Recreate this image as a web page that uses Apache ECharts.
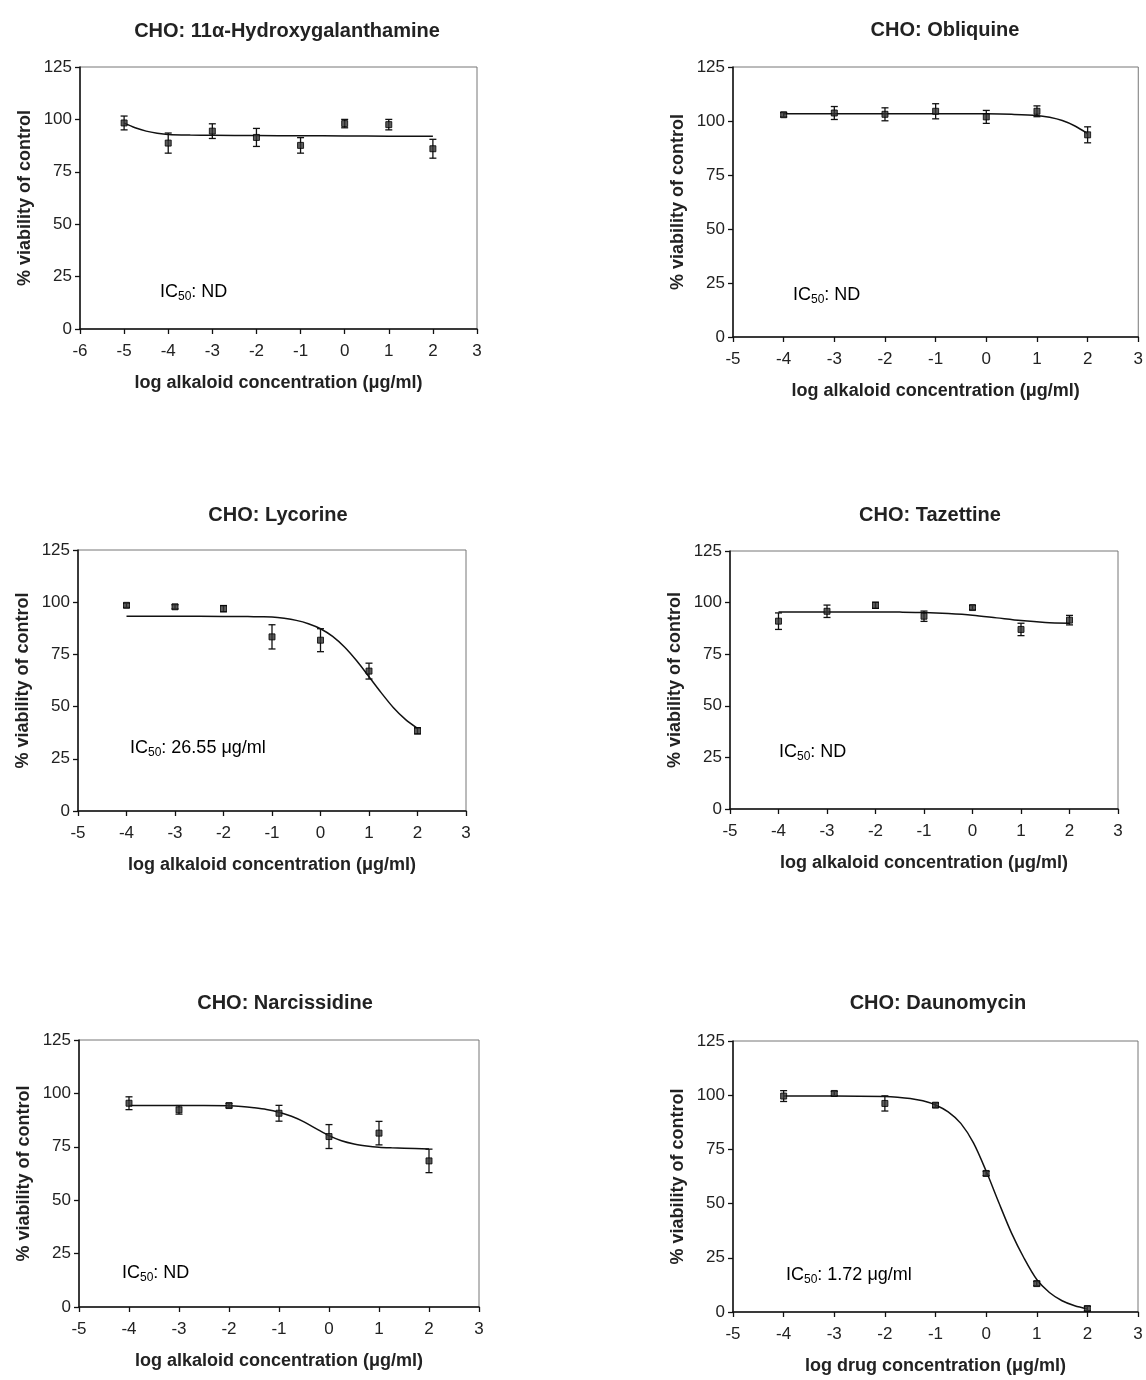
<!DOCTYPE html>
<html>
<head>
<meta charset="utf-8">
<script src="https://cdn.jsdelivr.net/npm/echarts@6/dist/echarts.min.js"></script>
<style>
html,body{margin:0;padding:0;background:#fff;}
#chart{width:1146px;height:1380px;}
</style>
</head>
<body>
<div id="chart"></div>
<script>
// ---------- DATA ----------
const dosesHydroxy = [-5, -4, -3, -2, -1, 0, 1, 2];
const doses = [-4, -3, -2, -1, 0, 1, 2];
const yTicks = [0, 25, 50, 75, 100, 125];

// CHO: 11α-Hydroxygalanthamine
const hydroxyMean = [98.3, 88.7, 94.4, 91.4, 87.6, 98.0, 97.5, 86.0];
const hydroxySem  = [3.3, 4.8, 3.5, 4.3, 3.7, 2.0, 2.5, 4.5];
const hydroxyFitX = [-5, -4.75, -4.5, -4.25, -4, -3.5, -3, -2, -1, 0, 1, 2];
const hydroxyFitY = [98.2, 96.0, 94.4, 93.4, 92.8, 92.5, 92.4, 92.3, 92.2, 92.1, 92.0, 92.0];

// CHO: Obliquine
const obliqMean = [102.9, 103.7, 103.1, 104.5, 101.9, 104.5, 93.6];
const obliqSem  = [1.0, 3.0, 3.0, 3.5, 3.0, 2.5, 3.7];
const obliqFitX = [-4, -3, -2, -1, 0, 0.5, 1, 1.25, 1.5, 1.75, 2];
const obliqFitY = [103.4, 103.4, 103.4, 103.4, 103.3, 103.1, 102.6, 101.7, 100.2, 97.7, 94.2];

// CHO: Lycorine
const lycoMean = [98.5, 97.8, 96.9, 83.4, 81.8, 67.0, 38.4];
const lycoSem  = [1.0, 1.0, 1.5, 5.8, 5.5, 3.8, 1.5];
const lycoFitX = [-4, -3, -2, -1.5, -1.25, -1, -0.75, -0.5, -0.25, 0, 0.25, 0.5, 0.75, 1, 1.25, 1.5, 1.75, 2];
const lycoFitY = [93.3, 93.3, 93.2, 93.1, 93.0, 92.9, 92.3, 91.3, 89.7, 87.3, 83.6, 78.4, 71.8, 64.3, 56.7, 49.6, 43.9, 39.6];

// CHO: Tazettine
const tazMean = [91.0, 95.8, 98.7, 93.4, 97.6, 87.0, 91.5];
const tazSem  = [4.0, 3.0, 1.5, 2.5, 1.0, 3.0, 2.3];
const tazFitX = [-4, -3, -2, -1.5, -1, -0.5, 0, 0.5, 1, 1.5, 2];
const tazFitY = [95.5, 95.5, 95.5, 95.4, 95.2, 94.7, 93.9, 92.6, 91.3, 90.4, 90.0];

// CHO: Narcissidine
const narcMean = [95.4, 92.3, 94.3, 90.7, 79.8, 81.4, 68.4];
const narcSem  = [3.0, 2.0, 1.0, 3.7, 5.6, 5.5, 5.5];
const narcFitX = [-4, -3, -2, -1.75, -1.5, -1.25, -1, -0.75, -0.5, -0.25, 0, 0.25, 0.5, 0.75, 1, 1.25, 1.5, 2];
const narcFitY = [94.3, 94.3, 94.2, 93.9, 93.3, 92.5, 91.2, 89.3, 86.7, 83.4, 80.2, 77.8, 76.3, 75.4, 74.8, 74.5, 74.3, 74.0];

// CHO: Daunomycin
const daunoMean = [99.6, 100.8, 96.2, 95.4, 63.9, 13.1, 1.6];
const daunoSem  = [2.5, 1.0, 3.5, 1.0, 1.0, 1.0, 1.0];
const daunoFitX = [-4, -3, -2, -1.75, -1.5, -1.25, -1, -0.75, -0.5, -0.25, 0, 0.25, 0.5, 0.75, 1, 1.25, 1.5, 1.75, 2];
const daunoFitY = [99.6, 99.6, 99.4, 99.1, 98.5, 97.4, 95.5, 92.3, 87.0, 78.0, 65.0, 50.5, 36.5, 24.8, 15.0, 9.0, 5.2, 2.9, 1.5];

const titles = [
  'CHO: 11\u03b1-Hydroxygalanthamine', 'CHO: Obliquine',
  'CHO: Lycorine', 'CHO: Tazettine',
  'CHO: Narcissidine', 'CHO: Daunomycin'
];
const xNames = [
  'log alkaloid concentration (\u03bcg/ml)', 'log alkaloid concentration (\u03bcg/ml)',
  'log alkaloid concentration (\u03bcg/ml)', 'log alkaloid concentration (\u03bcg/ml)',
  'log alkaloid concentration (\u03bcg/ml)', 'log drug concentration (\u03bcg/ml)'
];
const yName = '% viability of control';
const ic50Labels = ['ND', 'ND', '26.55 \u03bcg/ml', 'ND', 'ND', '1.72 \u03bcg/ml'];
const xMins = [-6, -5, -5, -5, -5, -5];
const xMax = 3;

// ---------- LAYOUT ----------
const layout = [
  {left: 80, top: 67, width: 397, height: 262, tx: 282, ty: 16, icx: 160, icy: 292},
  {left: 733, top: 67, width: 407, height: 270, tx: 940, ty: 15, icx: 793, icy: 295},
  {left: 78, top: 550, width: 388, height: 261, tx: 273, ty: 500, icx: 130, icy: 748},
  {left: 730, top: 551, width: 388, height: 258, tx: 925, ty: 500, icx: 779, icy: 752},
  {left: 79, top: 1040, width: 400, height: 267, tx: 280, ty: 988, icx: 122, icy: 1273},
  {left: 733, top: 1041, width: 405, height: 271, tx: 933, ty: 988, icx: 786, icy: 1275}
];

const panelData = [
  {x: dosesHydroxy, m: hydroxyMean, e: hydroxySem, fx: hydroxyFitX, fy: hydroxyFitY},
  {x: doses, m: obliqMean, e: obliqSem, fx: obliqFitX, fy: obliqFitY},
  {x: doses, m: lycoMean, e: lycoSem, fx: lycoFitX, fy: lycoFitY},
  {x: doses, m: tazMean, e: tazSem, fx: tazFitX, fy: tazFitY},
  {x: doses, m: narcMean, e: narcSem, fx: narcFitX, fy: narcFitY},
  {x: doses, m: daunoMean, e: daunoSem, fx: daunoFitX, fy: daunoFitY}
];

const FONT = '"Liberation Sans", Arial, sans-serif';
const grid = [], xAxis = [], yAxis = [], series = [], title = [], graphic = [];

function errRender(params, api) {
  const x = api.value(0), m = api.value(1), e = api.value(2);
  const t = api.coord([x, m + e]);
  const b = api.coord([x, m - e]);
  const cw = 3.5;
  const st = {stroke: '#111', lineWidth: 1.3};
  return {
    type: 'group',
    children: [
      {type: 'line', shape: {x1: t[0], y1: t[1], x2: b[0], y2: b[1]}, style: st},
      {type: 'line', shape: {x1: t[0] - cw, y1: t[1], x2: t[0] + cw, y2: t[1]}, style: st},
      {type: 'line', shape: {x1: b[0] - cw, y1: b[1], x2: b[0] + cw, y2: b[1]}, style: st}
    ]
  };
}

layout.forEach((L, i) => {
  const P = panelData[i];
  grid.push({left: L.left, top: L.top, width: L.width, height: L.height,
    show: true, borderColor: '#777', borderWidth: 1, backgroundColor: 'transparent'});
  xAxis.push({
    type: 'value', gridIndex: i, min: xMins[i], max: xMax, interval: 1,
    name: xNames[i], nameLocation: 'middle', nameGap: 45,
    nameTextStyle: {fontFamily: FONT, fontWeight: 'bold', fontSize: 18, color: '#222'},
    axisLine: {show: true, onZero: false, lineStyle: {color: '#111', width: 1.5}},
    axisTick: {show: true, inside: false, length: 5, lineStyle: {color: '#111', width: 1.3}},
    axisLabel: {fontFamily: FONT, fontSize: 17, color: '#222', margin: 14},
    splitLine: {show: false}
  });
  yAxis.push({
    type: 'value', gridIndex: i, min: yTicks[0], max: yTicks[yTicks.length - 1], interval: 25,
    name: yName, nameLocation: 'middle', nameGap: 46, nameRotate: 90,
    nameTextStyle: {fontFamily: FONT, fontWeight: 'bold', fontSize: 18, color: '#222'},
    axisLine: {show: true, onZero: false, lineStyle: {color: '#111', width: 1.5}},
    axisTick: {show: true, inside: false, length: 5, lineStyle: {color: '#111', width: 1.3}},
    axisLabel: {fontFamily: FONT, fontSize: 17, color: '#222', margin: 8},
    splitLine: {show: false}
  });
  series.push({
    type: 'line', xAxisIndex: i, yAxisIndex: i, smooth: 0.3, symbol: 'none',
    lineStyle: {color: '#111', width: 1.5}, z: 2, silent: true,
    data: P.fx.map((v, k) => [v, P.fy[k]])
  });
  series.push({
    type: 'custom', xAxisIndex: i, yAxisIndex: i, renderItem: errRender, z: 3,
    encode: {x: 0, y: 1}, silent: true,
    data: P.x.map((v, k) => [v, P.m[k], P.e[k]])
  });
  series.push({
    type: 'scatter', xAxisIndex: i, yAxisIndex: i, symbol: 'rect', symbolSize: 6, z: 4,
    itemStyle: {color: '#333', borderColor: '#000', borderWidth: 1},
    data: P.x.map((v, k) => [v, P.m[k]])
  });
  title.push({
    text: titles[i], left: L.tx, top: L.ty, textAlign: 'center',
    textStyle: {fontFamily: FONT, fontWeight: 'bold', fontSize: 20, color: '#222'}
  });
  graphic.push({
    type: 'text', x: L.icx, y: L.icy,
    style: {
      text: '{a|IC}{s|50}{a|: ' + ic50Labels[i] + '}',
      verticalAlign: 'middle',
      rich: {
        a: {fontFamily: FONT, fontSize: 18, color: '#222'},
        s: {fontFamily: FONT, fontSize: 12, color: '#222', padding: [10, 0, 0, 0]}
      }
    }
  });
});

const chart = echarts.init(document.getElementById('chart'), null, {renderer: 'canvas'});
chart.setOption({
  animation: false,
  backgroundColor: '#fff',
  title, grid, xAxis, yAxis, series, graphic
});
</script>
</body>
</html>
